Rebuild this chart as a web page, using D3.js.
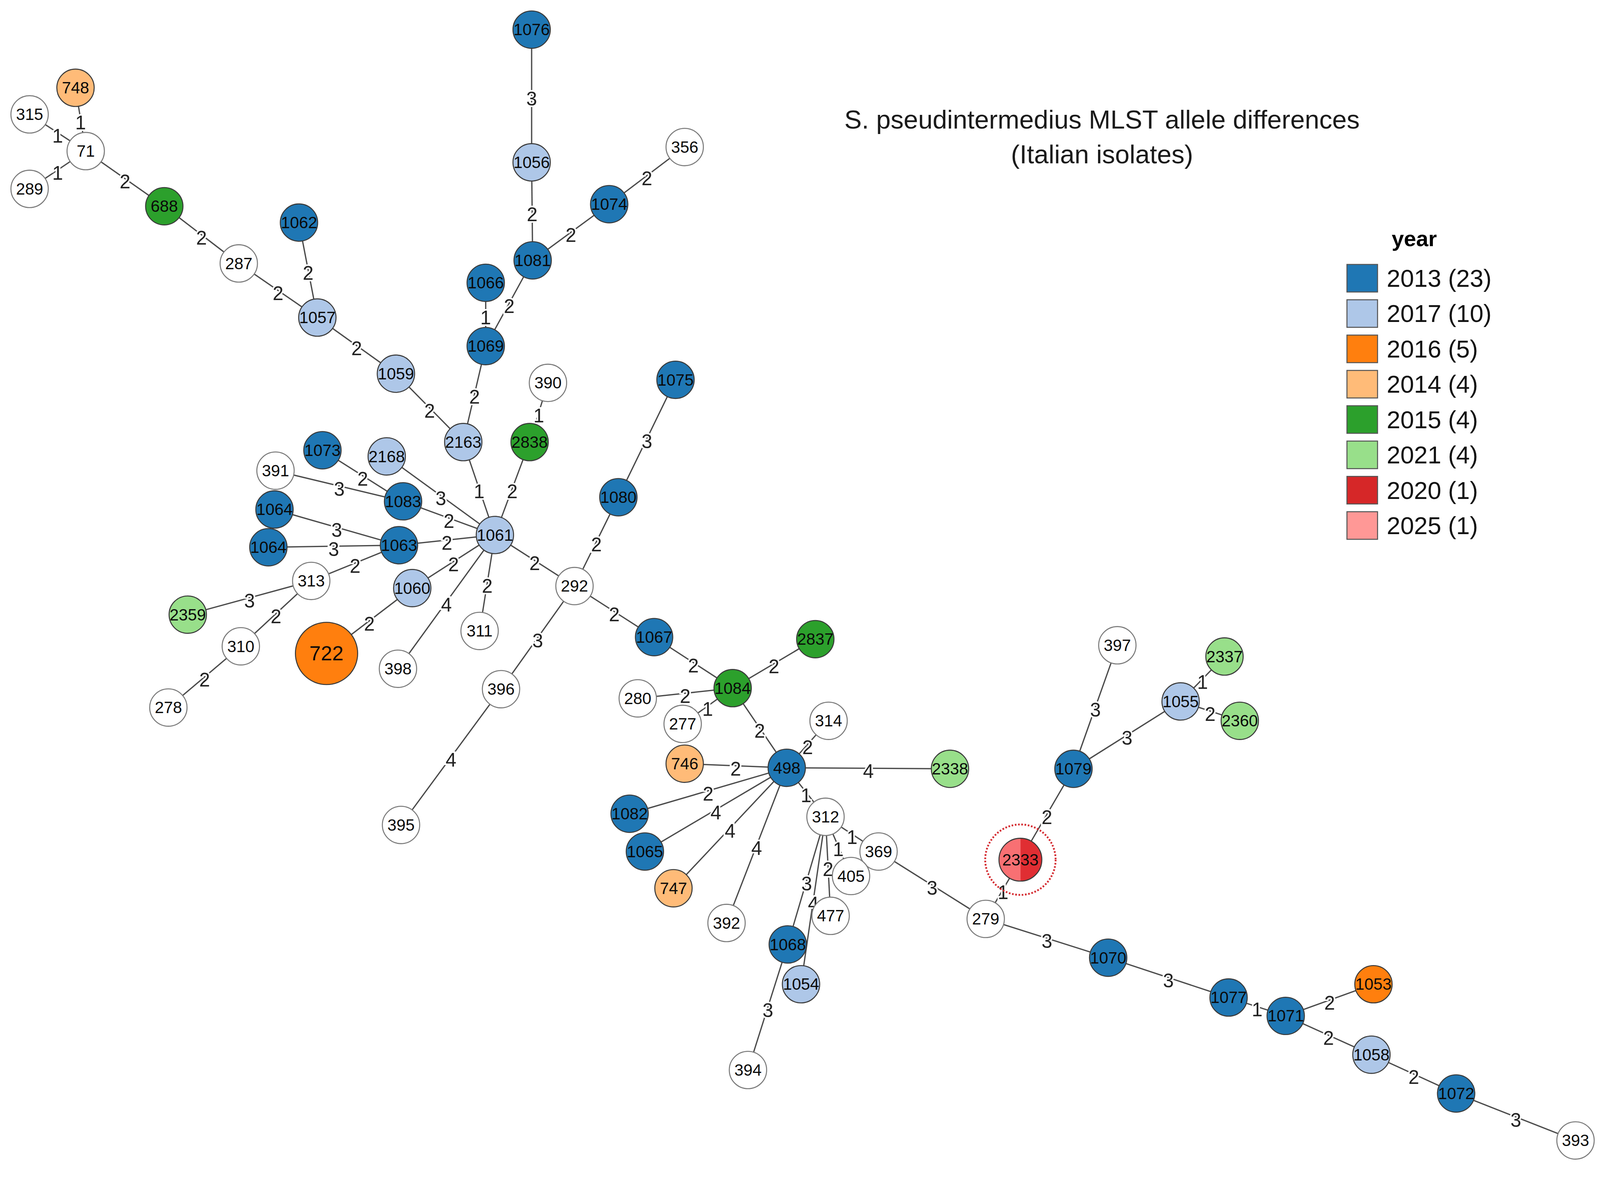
<!DOCTYPE html>
<html>
<head>
<meta charset="utf-8">
<script src="https://cdn.jsdelivr.net/npm/d3@7"></script>
<style>
  html, body { margin: 0; padding: 0; background: #fff; overflow: hidden; }
  svg { display: block; width: 100vw; height: auto; aspect-ratio: 4138 / 3020; }
</style>
</head>
<body>
<svg id="mst"></svg>
<script>
// sequence types, layout position (1568x1144 layout units)
const stIds = ["748","315","71","289","688","287","1062","1057","1059","2163",
  "1076","1056","1081","1074","356","1066","1069","390","2838","1075",
  "1080","1073","2168","391","1083","1064a","1064b","1063","1061","313",
  "2359","1060","310","278","722","398","311","292","396","395",
  "1067","2837","1084","280","277","314","746","498","2338","1082",
  "1065","747","312","369","405","477","392","1068","1054","394",
  "279","2333","1079","397","1055","2337","2360","1070","1077","1071",
  "1053","1058","1072","393"]

const layoutX = [74,29,84,29,161,234,293,311,388,454,
  521,521,522,597,671,476,476,537,519,662,
  606,316,379,270,395,269,263,391,485,305,
  184,404,236,165,320,390,470,563,491,393,
  641,799,718,625,669,812,671,771,931,617,
  632,660,809,861,834,814,712,772,785,733,
  966,1000,1052,1095,1157,1200,1215,1086,1204,1260,
  1346,1344,1427,1544]

const layoutY = [86,112,148,185,202,258,218,311,366,433,
  29,159,255,200,144,277,339,375,433,372,
  487,441,447,461,491,499,536,534,524,569,
  602,576,633,693,640,655,618,574,675,808,
  624,626,674,684,709,706,748,752,753,797,
  834,870,800,834,858,897,904,925,964,1048,
  900,842,753,632,687,643,706,938,977,995,
  964,1033,1071,1117]

// year(s) of each ST ("" = no year), "+" joins mixed nodes
const stYears = ["2014","","","","2015","","2013","2017","2017","2017",
  "2013","2017","2013","2013","","2013","2013","","2015","2013",
  "2013","2013","2017","","2013","2013","2013","2013","2017","",
  "2021","2017","","","2016","","","","","",
  "2013","2015","2015","","","","2014","2013","2021","2013",
  "2013","2014","","","","","","2013","2017","",
  "","2020+2025","2013","","2017","2021","2021","2013","2013","2013",
  "2016","2017","2013",""]

// isolates per node (only those above one)
const isolateCount = {"722": 4, "2333": 2}

// minimum spanning tree edges: source, target, allele differences
const links = [
  ["748","71",1],["315","71",1],["289","71",1],["71","688",2],["688","287",2],
  ["287","1057",2],["1062","1057",2],["1057","1059",2],["1059","2163",2],["2163","1069",2],
  ["1069","1066",1],["1069","1081",2],["1081","1056",2],["1056","1076",3],["1081","1074",2],
  ["1074","356",2],["2163","1061",1],["2838","1061",2],["390","2838",1],["1073","1083",2],
  ["391","1083",3],["2168","1061",3],["1083","1061",2],["1064a","1063",3],["1064b","1063",3],
  ["1063","1061",2],["313","1063",2],["2359","313",3],["313","310",2],["310","278",2],
  ["1060","1061",2],["722","1060",2],["398","1061",4],["311","1061",2],["1061","292",2],
  ["292","1080",2],["1080","1075",3],["292","396",3],["396","395",4],["292","1067",2],
  ["1067","1084",2],["1084","2837",2],["280","1084",2],["277","1084",1],["1084","498",2],
  ["498","314",2],["746","498",2],["498","2338",4],["1082","498",2],["1065","498",4],
  ["747","498",4],["392","498",4],["498","312",1],["312","369",1],["312","405",1],
  ["312","477",2],["312","1068",3],["312","1054",4],["1068","394",3],["369","279",3],
  ["279","2333",1],["2333","1079",2],["1079","397",3],["1079","1055",3],["1055","2337",1],
  ["1055","2360",2],["279","1070",3],["1070","1077",3],["1077","1071",1],["1071","1053",2],
  ["1071","1058",2],["1058","1072",2],["1072","393",3]
]

const legendYears = ["2013","2017","2016","2014","2015","2021","2020","2025"]
const legendCounts = [23,10,5,4,4,4,1,1]
const highlighted = ["2333"]

const titleLines = ["S. pseudintermedius MLST allele differences", "(Italian isolates)"]

function drawTree() {
	const W = 4138, H = 3020
	const k = W / 1568

	const svg = d3.select("#mst")
		.attr("viewBox", `0 0 ${W} ${H}`)
		.style("font-family", "'Liberation Sans', Arial, sans-serif")

	const x = d3.scaleLinear().domain([0, 1568]).range([0, W])
	const y = d3.scaleLinear().domain([0, 1144]).range([0, H])

	const color = d3.scaleOrdinal()
		.domain(legendYears)
		.range(["#1f77b4", "#aec7e8", "#ff7f0e", "#ffbb78", "#2ca02c", "#98df8a", "#d62728", "#ff9896"])

	const radius = d3.scaleLinear().domain([1, 2, 4]).range([18.3 * k, 21 * k, 30.5 * k])

	const nodes = stIds.map((id, i) => ({
		id,
		label: id.replace(/[ab]$/, ""),
		px: x(layoutX[i]),
		py: y(layoutY[i]),
		years: stYears[i] ? stYears[i].split("+") : [],
		n: isolateCount[id] || 1
	}))
	const byId = new Map(nodes.map(d => [d.id, d]))

	// edges
	svg.append("g")
		.selectAll("line")
		.data(links)
		.join("line")
			.attr("x1", d => byId.get(d[0]).px)
			.attr("y1", d => byId.get(d[0]).py)
			.attr("x2", d => byId.get(d[1]).px)
			.attr("y2", d => byId.get(d[1]).py)
			.attr("stroke", "#4a4a4a")
			.attr("stroke-width", 1.25 * k)

	svg.append("g")
		.selectAll("text")
		.data(links)
		.join("text")
			.attr("x", d => (byId.get(d[0]).px + byId.get(d[1]).px) / 2)
			.attr("y", d => (byId.get(d[0]).py + byId.get(d[1]).py) / 2 + 3 * k)
			.attr("text-anchor", "middle")
			.attr("dominant-baseline", "central")
			.attr("font-size", 19 * k)
			.attr("fill", "#222")
			.attr("stroke", "#fff")
			.attr("stroke-width", 3 * k)
			.attr("paint-order", "stroke")
			.text(d => d[2])

	// highlight ring
	svg.append("g")
		.selectAll("circle")
		.data(nodes.filter(d => highlighted.includes(d.id)))
		.join("circle")
			.attr("cx", d => d.px)
			.attr("cy", d => d.py)
			.attr("r", 34.5 * k)
			.attr("fill", "none")
			.attr("stroke", "#d42a30")
			.attr("stroke-width", 1.8 * k)
			.attr("stroke-dasharray", `${1.6 * k} ${1.6 * k}`)

	// nodes
	const pie = d3.pie().value(1).sort(null)
	const node = svg.append("g")
		.selectAll("g")
		.data(nodes)
		.join("g")
			.attr("transform", d => `translate(${d.px},${d.py})`)

	node.filter(d => d.years.length <= 1)
		.append("circle")
			.attr("r", d => radius(d.n))
			.attr("fill", d => d.years.length ? color(d.years[0]) : "#fff")
			.attr("stroke", d => d.years.length ? "#3a3a3a" : "#7a7a7a")
			.attr("stroke-width", 1 * k)

	const mixed = node.filter(d => d.years.length > 1)
	mixed.selectAll("path")
		.data(d => pie(d.years).map(s => ({...s, r: radius(d.n)})))
		.join("path")
			.attr("d", s => d3.arc().innerRadius(0).outerRadius(s.r)(s))
			.attr("fill", s => color(s.data))
	mixed.append("circle")
		.attr("r", d => radius(d.n))
		.attr("fill", "#ee3a42")
		.attr("fill-opacity", 0.42)
		.attr("stroke", "#3a3a3a")
		.attr("stroke-width", 1 * k)

	node.append("text")
		.attr("text-anchor", "middle")
		.attr("dominant-baseline", "central")
		.attr("font-size", d => (d.n >= 4 ? 20 : 16) * k)
		.attr("fill", "#0a0a0a")
		.text(d => d.label)

	// title
	svg.append("g")
		.selectAll("text")
		.data(titleLines)
		.join("text")
			.attr("x", x(1080))
			.attr("y", (d, i) => y(126 + i * 34))
			.attr("text-anchor", "middle")
			.attr("font-size", 25.5 * k)
			.attr("fill", "#1a1a1a")
			.text(d => d)

	// legend
	const legend = svg.append("g")
	legend.append("text")
		.attr("x", x(1386))
		.attr("y", y(241))
		.attr("text-anchor", "middle")
		.attr("font-size", 21.5 * k)
		.attr("font-weight", "bold")
		.text("year")

	const rows = legend.selectAll("g.row")
		.data(legendYears)
		.join("g")
			.attr("class", "row")
			.attr("transform", (d, i) => `translate(${x(1320)},${y(259 + i * 34.6)})`)

	rows.append("rect")
		.attr("width", 30 * k)
		.attr("height", 27 * k)
		.attr("fill", d => color(d))
		.attr("stroke", "#555")
		.attr("stroke-width", 1 * k)

	rows.append("text")
		.attr("x", 39 * k)
		.attr("y", 13.5 * k)
		.attr("dominant-baseline", "central")
		.attr("font-size", 24 * k)
		.attr("fill", "#111")
		.text((d, i) => `${d} (${legendCounts[i]})`)
}
drawTree()
</script>
</body>
</html>
